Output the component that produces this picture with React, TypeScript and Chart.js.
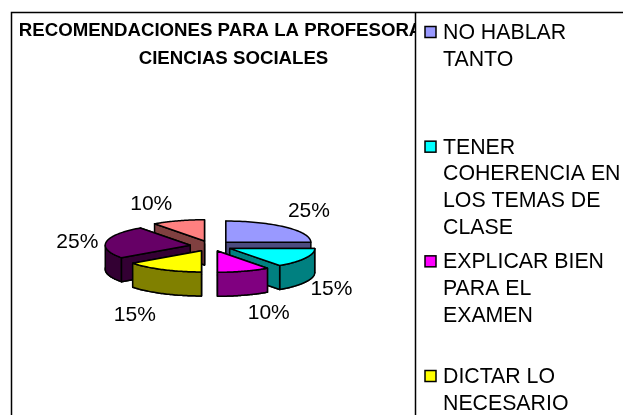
import React, { useEffect, useRef } from "react";
import { Chart, registerables } from "chart.js";

Chart.register(...registerables);

const titleLines = [" RECOMENDACIONES PARA LA PROFESORA DE", "CIENCIAS SOCIALES"];
const categories = [
  "NO HABLAR TANTO",
  "TENER COHERENCIA EN LOS TEMAS DE CLASE",
  "EXPLICAR BIEN PARA EL EXAMEN",
  "DICTAR LO NECESARIO",
  "",
  "",
];
const legendLines = [
  ["NO HABLAR", "TANTO"],
  ["TENER", "COHERENCIA EN", "LOS TEMAS DE", "CLASE"],
  ["EXPLICAR BIEN", "PARA EL", "EXAMEN"],
  ["DICTAR LO", "NECESARIO"],
];
const shares = [25, 15, 10, 15, 25, 10];
const topColors = ["#9999FF", "#00FFFF", "#FF00FF", "#FFFF00", "#660066", "#FF8080"];
const wallColors = ["#4C4C80", "#008080", "#800080", "#808000", "#330033", "#804040"];

const FONT = '"Liberation Sans", Arial, sans-serif';
const PIE = { x: 211, y: 246, squash: 0.25, depth: 24 };
const FRAME = { left: 11.5, top: 12.5, divider: 415.5 };
const LEGEND = { box: 425, text: 443, firstY: 33, step: 114.67, line: 26.7, size: 11 };
const labelNudge = [
  [23, -16],
  [26, 31],
  [25, 42],
  [-28, 46],
  [-29, 0],
  [-27, -17],
];

const pie3d = {
  id: "pie3d",
  beforeDraw(chart: any) {
    const { ctx, width, height } = chart;
    ctx.save();
    ctx.fillStyle = "#fff";
    ctx.fillRect(0, 0, width, height);
    ctx.restore();
  },
  beforeDatasetDraw(chart: any, args: any) {
    const ctx: CanvasRenderingContext2D = chart.ctx;
    const arcs = args.meta.data as any[];
    const geom = arcs.map((arc, i) => {
      const a0 = arc.startAngle;
      const a1 = arc.endAngle;
      const mid = (a0 + a1) / 2;
      const off = arc.options.offset;
      const r = arc.outerRadius;
      const ax = PIE.x + Math.cos(mid) * off;
      const ay = PIE.y + Math.sin(mid) * off * PIE.squash;
      return { i, a0, a1, mid, r, ax, ay };
    });
    const pt = (g: any, a: number, dz = 0) => [
      g.ax + Math.cos(a) * g.r,
      g.ay + Math.sin(a) * g.r * PIE.squash + dz,
    ];
    const fillPoly = (pts: number[][], color: string) => {
      ctx.beginPath();
      pts.forEach((p, k) => (k ? ctx.lineTo(p[0], p[1]) : ctx.moveTo(p[0], p[1])));
      ctx.closePath();
      ctx.fillStyle = color;
      ctx.fill();
      ctx.stroke();
    };
    const sector = (g: any, dz: number) => {
      const pts = [[g.ax, g.ay + dz]];
      const n = 48;
      for (let k = 0; k <= n; k++) pts.push(pt(g, g.a0 + ((g.a1 - g.a0) * k) / n, dz));
      return pts;
    };
    ctx.save();
    ctx.strokeStyle = "#000";
    ctx.lineWidth = 1.5;
    ctx.lineJoin = "round";
    [...geom]
      .sort((p, q) => p.ay - q.ay)
      .forEach((g) => {
        const wall = wallColors[g.i];
        const top = topColors[g.i];
        const radial = (a: number) => {
          const e = pt(g, a);
          const b = pt(g, a, PIE.depth);
          fillPoly([[g.ax, g.ay], e, b, [g.ax, g.ay + PIE.depth]], wall);
        };
        const startFront = -Math.cos(g.a0) > 1e-6;
        const endFront = Math.cos(g.a1) > 1e-6;
        fillPoly(sector(g, PIE.depth), wall);
        if (!startFront) radial(g.a0);
        if (!endFront) radial(g.a1);
        // outer rim: only the part that faces the viewer
        const segs: number[][] = [];
        const lower: number[][] = [];
        const n = 48;
        for (let k = 0; k <= n; k++) {
          const a = g.a0 + ((g.a1 - g.a0) * k) / n;
          if (Math.sin(a) >= -1e-6) {
            segs.push(pt(g, a));
            lower.unshift(pt(g, a, PIE.depth));
          }
        }
        if (segs.length > 1) fillPoly([...segs, ...lower], wall);
        if (startFront) radial(g.a0);
        if (endFront) radial(g.a1);
        fillPoly(sector(g, 0), top);
      });
    ctx.restore();

    const total = shares.reduce((s, v) => s + v, 0);
    ctx.save();
    ctx.fillStyle = "#000";
    ctx.font = `21px ${FONT}`;
    ctx.textAlign = "center";
    ctx.textBaseline = "middle";
    geom.forEach((g) => {
      const p = pt(g, g.mid);
      const [nx, ny] = labelNudge[g.i];
      ctx.fillText(`${Math.round((shares[g.i] / total) * 100)}%`, p[0] + nx, p[1] + ny);
    });
    ctx.restore();
    return false;
  },
  afterDraw(chart: any) {
    const { ctx, width, height } = chart;
    ctx.save();
    ctx.fillStyle = "#fff";
    ctx.fillRect(FRAME.divider, 0, width - FRAME.divider, height);
    ctx.strokeStyle = "#000";
    ctx.lineWidth = 1.5;
    ctx.beginPath();
    ctx.moveTo(FRAME.left, height);
    ctx.lineTo(FRAME.left, FRAME.top);
    ctx.lineTo(width, FRAME.top);
    ctx.moveTo(FRAME.divider, FRAME.top);
    ctx.lineTo(FRAME.divider, height);
    ctx.stroke();

    ctx.font = `21.3px ${FONT}`;
    ctx.textAlign = "left";
    ctx.textBaseline = "middle";
    legendLines.forEach((lines, i) => {
      const y0 = LEGEND.firstY + i * LEGEND.step;
      ctx.fillStyle = topColors[i];
      ctx.fillRect(LEGEND.box, y0 - 1 - LEGEND.size / 2, LEGEND.size, LEGEND.size);
      ctx.strokeRect(LEGEND.box, y0 - 1 - LEGEND.size / 2, LEGEND.size, LEGEND.size);
      ctx.fillStyle = "#000";
      lines.forEach((t, k) => ctx.fillText(t, LEGEND.text, y0 + k * LEGEND.line));
    });
    ctx.restore();
  },
};

export default function App() {
  const ref = useRef<HTMLCanvasElement>(null);
  useEffect(() => {
    const chart = new Chart(ref.current!, {
      type: "pie",
      data: {
        labels: categories,
        datasets: [
          {
            data: shares,
            backgroundColor: topColors,
            radius: 85,
            offset: 21,
            borderWidth: 0,
          } as any,
        ],
      },
      options: {
        responsive: false,
        animation: false,
        devicePixelRatio: 1,
        layout: { padding: { left: 0, right: 156, top: 0, bottom: 0 } },
        plugins: {
          legend: { display: false },
          tooltip: { enabled: false },
          title: {
            display: true,
            text: titleLines,
            color: "#000",
            font: { family: FONT, size: 18.65, weight: "bold", lineHeight: 1.5 },
            padding: { top: 17, bottom: 0 },
          },
        },
      },
      plugins: [pie3d],
    } as any);
    return () => chart.destroy();
  }, []);
  return (
    <div style={{ position: "absolute", left: 0, top: 0, width: 623, height: 415 }}>
      <canvas ref={ref} width={623} height={415} style={{ display: "block" }} />
    </div>
  );
}
